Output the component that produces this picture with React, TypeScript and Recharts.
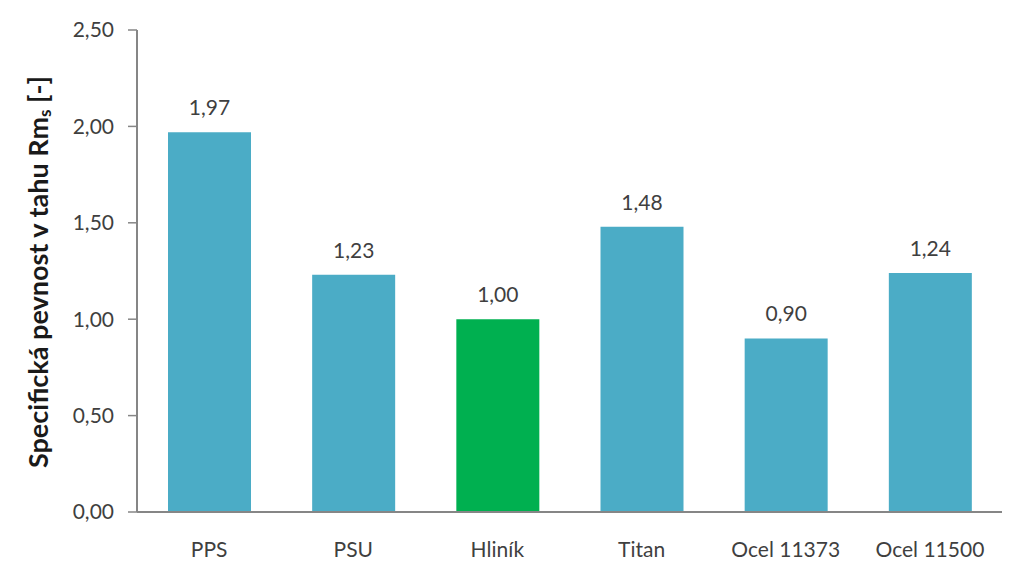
import { BarChart, Bar, XAxis, YAxis, Cell, LabelList } from 'recharts';

const materials = ['PPS', 'PSU', 'Hliník', 'Titan', 'Ocel 11373', 'Ocel 11500'];
const strength = [1.97, 1.23, 1.0, 1.48, 0.9, 1.24];
const barColors = ['#4BACC6', '#4BACC6', '#00B050', '#4BACC6', '#4BACC6', '#4BACC6'];
const yTicks = [0, 0.5, 1, 1.5, 2, 2.5];

const data = materials.map((name, i) => ({ name, value: strength[i] }));

const FONT = 'Lato, "Open Sans", sans-serif';
const TEXT = '#3f3f3f';
const AXIS = '#868686';

const fmt = (v: number) => v.toFixed(2).replace('.', ',');

const YLabel = () => (
  <text
    x={37}
    y={272}
    transform="rotate(-90 37 272)"
    textAnchor="middle"
    dominantBaseline="central"
    fontFamily={FONT}
    fontSize={27}
    fontWeight="bold"
    fill="#1a1a1a"
  >
    Specifická pevnost v tahu Rm
    <tspan fontSize={17} dy={7}>s</tspan>
    <tspan dy={-7}> [-]</tspan>
  </text>
);

const App = () => (
  <div style={{ position: 'absolute', left: 0, top: 0, width: 1022, height: 580, background: '#fff' }}>
    <BarChart
      width={1022}
      height={580}
      data={data}
      margin={{ top: 30, right: 20, bottom: 0, left: 0 }}
      barSize={83}
    >
      <XAxis
        dataKey="name"
        height={68}
        tickLine={false}
        axisLine={{ stroke: AXIS, strokeWidth: 2 }}
        tick={{ fill: TEXT, fontSize: 21, fontFamily: FONT }}
        tickMargin={24}
        interval={0}
      />
      <YAxis
        width={137}
        domain={[0, 2.5]}
        ticks={yTicks}
        interval={0}
        tickFormatter={fmt}
        axisLine={{ stroke: AXIS, strokeWidth: 2 }}
        tickLine={{ stroke: AXIS, strokeWidth: 1.5 }}
        tickSize={9}
        tickMargin={14}
        tick={{ fill: TEXT, fontSize: 21, fontFamily: FONT }}
        label={<YLabel />}
      />
      <Bar dataKey="value" isAnimationActive={false}>
        {data.map((_, i) => (
          <Cell key={i} fill={barColors[i]} />
        ))}
        <LabelList
          dataKey="value"
          position="top"
          offset={17}
          formatter={(v: number) => fmt(v)}
          style={{ fill: TEXT, fontSize: 21, fontFamily: FONT }}
        />
      </Bar>
    </BarChart>
  </div>
);

export default App;
